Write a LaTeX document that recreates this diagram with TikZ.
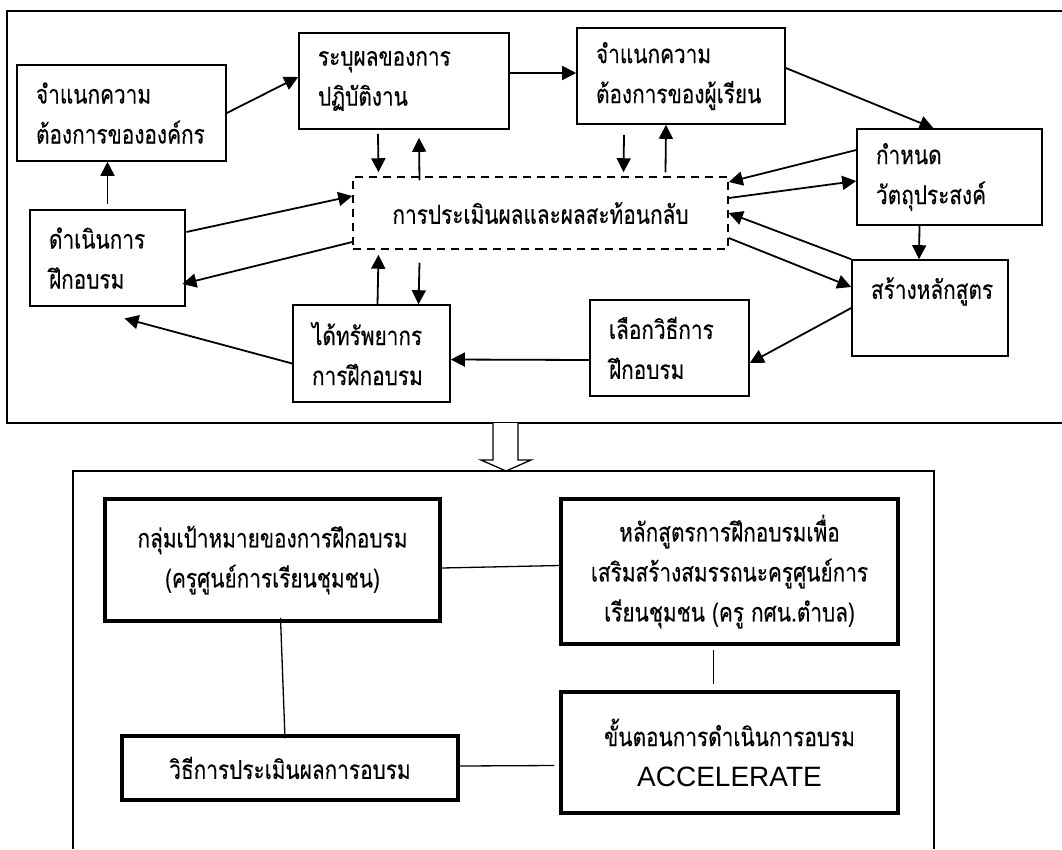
\documentclass[tikz,border=0pt]{standalone}
\usepackage{fontspec}
\setmainfont{Loma}[Script=Thai, FakeStretch=0.8, FakeBold=0.3]
\newfontfamily\latinfont{Liberation Sans}
\usetikzlibrary{arrows.meta}

\begin{document}
\begin{tikzpicture}[x=1pt, y=-1pt, font=\fontsize{26}{40}\selectfont,
  stage/.style={draw, line width=1.6pt, align=left, inner xsep=19pt, inner ysep=0pt, minimum height=96pt},
  goal/.style={draw, line width=3.5pt, align=center, inner sep=0pt},
  flow/.style={-{Triangle[length=14pt,width=14pt]}, line width=1.8pt},
  link/.style={line width=1.3pt}]
  \useasboundingbox (0,0) rectangle (1062,849);

  % upper frame: the training cycle
  \draw[line width=1.5pt] (1062,11) -| (7,423) -- (1062,423);
  \node (org) [stage, text width=171pt] at (121.5,113) {จำแนกความ\\ต้องการขององค์กร};
  \node (perf) [stage, text width=172pt] at (404,81) {ระบุผลของการ\\ปฏิบัติงาน};
  \node (learner) [stage, text width=170pt] at (681,76) {จำแนกความ\\ต้องการของผู้เรียน};
  \node (obj) [stage, text width=147pt] at (949.5,177) {กำหนด\\วัตถุประสงค์};
  \node (curr) [stage, text width=118pt] at (930,308) {สร้างหลักสูตร\\\mbox{}};
  \node (method) [stage, text width=121pt] at (669.5,348) {เลือกวิธีการ\\ฝึกอบรม};
  \node (res) [stage, text width=119pt, minimum height=97pt] at (371.5,353.5) {ได้ทรัพยากร\\การฝึกอบรม};
  \node (run) [stage, line width=2.8pt, text width=117pt] at (107.5,258) {ดำเนินการ\\ฝึกอบรม};
  \node (eval) [draw, line width=1.5pt, dash pattern=on 8pt off 6pt, minimum width=375pt, minimum height=72pt] at (540.5,213) {การประเมินผลและผลสะท้อนกลับ};

  \draw[flow] (org.east) -- ([yshift=4pt]perf.west);
  \draw[flow] ([yshift=8pt]perf.east) -- ([yshift=3pt]learner.west);
  \draw[flow] ([yshift=8pt]learner.east) -- ([xshift=-16pt]obj.north);
  \draw[flow] ([yshift=27pt]obj.west) -- ([yshift=31pt]eval.east);
  \draw[flow] ([yshift=15pt]eval.east) -- ([yshift=-4pt]obj.west);
  \draw[flow] ([xshift=-30pt]obj.south) -- ([xshift=-11pt]curr.north);
  \draw[flow] (curr.north west) -- (eval.east);
  \draw[flow] ([yshift=-25pt]eval.east) -- ([yshift=21pt]curr.west);
  \draw[flow] (curr.west) -- ([yshift=-15pt]method.east);
  \draw[flow] ([yshift=-12pt]method.west) -- ([yshift=-6pt]res.east);
  \draw[flow] ([yshift=-10pt]res.west) -- ([xshift=17pt,yshift=-11pt]run.south);
  \draw[flow] ([yshift=5pt]run.north) -- ([xshift=-14pt]org.south);
  \draw[flow] ([yshift=26pt]run.east) -- ([yshift=17pt]eval.west);
  \draw[flow] ([yshift=-29pt]eval.west) -- ([xshift=-4pt,yshift=-26pt]run.east);
  % up and down to the evaluation box
  \draw[flow] ([xshift=-26pt,yshift=-4pt]perf.south) -- ([xshift=-162pt,yshift=4pt]eval.north);
  \draw[flow] ([xshift=-121pt,yshift=-4pt]eval.north) -- ([xshift=15pt,yshift=-8pt]perf.south);
  \draw[flow] ([xshift=-57pt,yshift=-10pt]learner.south) -- ([xshift=83pt,yshift=4pt]eval.north);
  \draw[flow] ([xshift=125pt,yshift=4pt]eval.north) -- ([xshift=-15pt]learner.south);
  \draw[flow] ([xshift=6pt]res.north) -- ([xshift=-162pt,yshift=-5pt]eval.south);
  \draw[flow] ([xshift=-121pt,yshift=-13pt]eval.south) -- ([xshift=47pt]res.north);

  % hollow arrow down to the lower frame
  \draw[line width=1.3pt, fill=white] (493,423) -- (493,460) -- (481,460) -- (506,471) -- (531,460) -- (518,460) -- (518,423);

  % lower frame: the training course
  \draw[line width=1.2pt] (73,849) |- (934,471) -- (934,849);
  \node (target) [goal, minimum width=335pt, minimum height=122pt] at (272.5,560) {กลุ่มเป้าหมายของการฝึกอบรม\\(ครูศูนย์การเรียนชุมชน)};
  \node (course) [goal, minimum width=337pt, minimum height=145pt] at (729.5,571.5) {หลักสูตรการฝึกอบรมเพื่อ\\เสริมสร้างสมรรถนะครูศูนย์การ\\เรียนชุมชน (ครู กศน.ตำบล)};
  \node (steps) [goal, minimum width=337pt, minimum height=121pt] at (729.5,752.5) {ขั้นตอนการดำเนินการอบรม\\{\latinfont\fontsize{28}{30}\selectfont ACCELERATE}};
  \node (assess) [goal, minimum width=336pt, minimum height=64pt] at (290,768) {วิธีการประเมินผลการอบรม};

  \draw[link] ([yshift=-8pt]target.east) -- ([yshift=6pt]course.west);
  \draw[link] ([xshift=8pt,yshift=5pt]target.south) -- ([xshift=-5pt,yshift=-4pt]assess.north);
  \draw[link] ([xshift=-16pt,yshift=-4pt]course.south) -- ([xshift=-16pt,yshift=6pt]steps.north);
  \draw[link] ([yshift=2pt]assess.east) -- ([xshift=-5pt,yshift=-13pt]steps.west);
\end{tikzpicture}
\end{document}
